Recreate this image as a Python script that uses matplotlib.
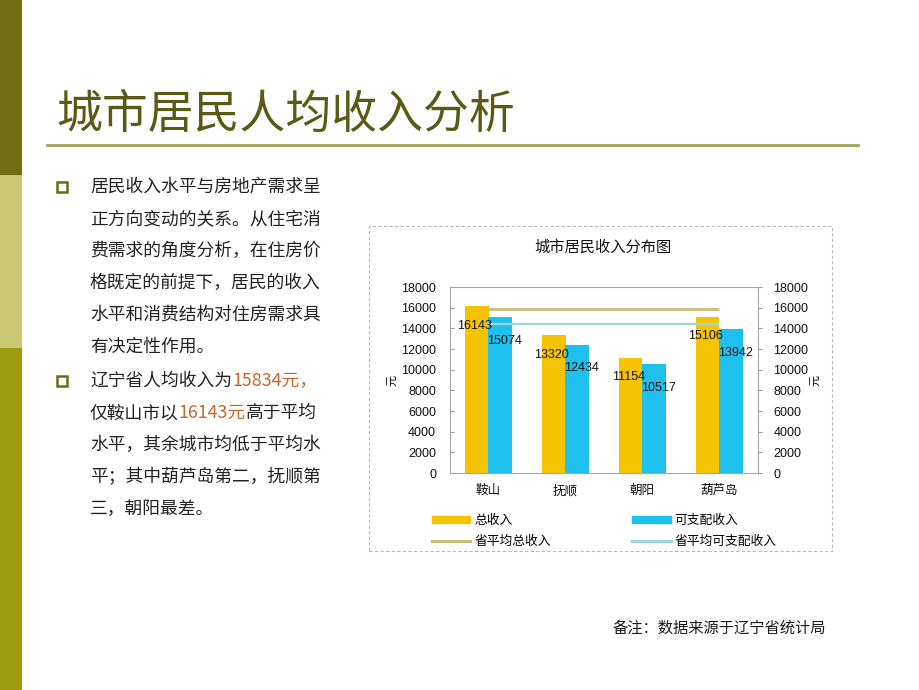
import matplotlib
matplotlib.use("Agg")
import matplotlib.pyplot as plt
from matplotlib.patches import Rectangle, Patch
from matplotlib.lines import Line2D

plt.rcParams['font.family'] = ['Noto Sans CJK SC', 'DejaVu Sans']

# data
cities = ['鞍山', '抚顺', '朝阳', '葫芦岛']
total_income = [16143, 13320, 11154, 15106]
disposable_income = [15074, 12434, 10517, 13942]
prov_avg_total = 15834
prov_avg_disposable = 14393
y_ticks = list(range(0, 18001, 2000))

slide_title = '城市居民人均收入分析'
chart_title = '城市居民收入分布图'
unit_label = '元'
legend_labels = ['总收入', '可支配收入', '省平均总收入', '省平均可支配收入']
footnote = '备注：数据来源于辽宁省统计局'

HL = '#c8642d'   # highlighted numbers
TXT = '#222222'
para1 = [
    [('居民收入水平与房地产需求呈', TXT)],
    [('正方向变动的关系。从住宅消', TXT)],
    [('费需求的角度分析，在住房价', TXT)],
    [('格既定的前提下，居民的收入', TXT)],
    [('水平和消费结构对住房需求具', TXT)],
    [('有决定性作用。', TXT)],
]
para2 = [
    [('辽宁省人均收入为', TXT), ('15834元，', HL)],
    [('仅鞍山市以', TXT), ('16143元', HL), ('高于平均', TXT)],
    [('水平，其余城市均低于平均水', TXT)],
    [('平；其中葫芦岛第二，抚顺第', TXT)],
    [('三，朝阳最差。', TXT)],
]

W, H = 920, 690
fig = plt.figure(figsize=(W / 100, H / 100), dpi=100)
fig.patch.set_facecolor('white')


def fx(px):
    return px / W


def fy(py):
    return 1 - py / H


# side bar
for y0, y1, col in [(0, 175, '#6e6e14'), (175, 348, '#c9c973'), (348, 690, '#9c9c0c')]:
    fig.add_artist(Rectangle((0, fy(y1)), fx(22), (y1 - y0) / H,
                             transform=fig.transFigure, facecolor=col, edgecolor='none'))

# title + rule
fig.text(fx(56), fy(115), slide_title, fontsize=33, color='#5a5a14', va='center', ha='left')
fig.add_artist(Line2D([fx(47), fx(858)], [fy(145), fy(145)], transform=fig.transFigure,
                      color='#a3a355', lw=2))

# bullet text
renderer = fig.canvas.get_renderer()


def put_line(x, y, segs, size=12.8):
    for s, c in segs:
        t = fig.text(fx(x), fy(y), s, color=c, fontsize=size, va='center', ha='left')
        bb = t.get_window_extent(renderer=renderer)
        x = bb.x1


def bullet(y):
    fig.add_artist(Line2D([fx(62)], [fy(y)], transform=fig.transFigure, marker='s',
                          ms=6.5, mfc='none', mec='#6b6b14', mew=1.8))


bullet(187)
for i, segs in enumerate(para1):
    put_line(90, 187 + 32 * i, segs)
bullet(381)
for i, segs in enumerate(para2):
    put_line(90, 381 + 32 * i, segs)

# chart frame
fig.add_artist(Rectangle((fx(369), fy(551)), fx(832 - 369), (551 - 226) / H,
                         transform=fig.transFigure, facecolor='none',
                         edgecolor='#b8b8b8', lw=0.8, ls=(0, (3, 2))))
fig.text(fx(603), fy(247), chart_title, fontsize=11, ha='center', va='center', color='#111111')

num_font = ['Liberation Sans', 'Noto Sans CJK SC']
ax = fig.add_axes([fx(450), fy(473), fx(758 - 450), (473 - 287) / H])
x = list(range(len(cities)))
bw = 0.3
yellow, blue = '#f5c300', '#1ec0ee'
ax.bar([i - bw / 2 for i in x], total_income, bw, color=yellow, zorder=2)
ax.bar([i + bw / 2 for i in x], disposable_income, bw, color=blue, zorder=2)
ax.hlines(prov_avg_total, 0, len(cities) - 1, color='#c8c07a', lw=2, zorder=3)
ax.hlines(prov_avg_disposable, 0, len(cities) - 1, color='#9fd4e2', lw=1.6, zorder=3)

for i, v in enumerate(total_income):
    ax.annotate(str(v), (i - bw / 2, v), xytext=(-2, -14), textcoords='offset points',
                ha='center', va='center', fontsize=9, family=num_font, color='#111111', zorder=4)
for i, v in enumerate(disposable_income):
    ax.annotate(str(v), (i + bw / 2, v), xytext=(3, -17), textcoords='offset points',
                ha='center', va='center', fontsize=9, family=num_font, color='#111111', zorder=4)

ax.set_xlim(-0.5, len(cities) - 0.5)
ax.set_ylim(0, 18000)
ax.set_yticks(y_ticks)
ax.set_yticklabels([str(t) for t in y_ticks], family=num_font, fontsize=9)
ax.set_xticks(x)
ax.set_xticklabels(cities, fontsize=9)
ax.tick_params(axis='y', direction='in', length=3, pad=10, colors='#a0a0a0', labelcolor='#111111')
ax.tick_params(axis='x', length=0, pad=8, labelcolor='#111111')
for s in ax.spines.values():
    s.set_color('#a6a6a6')
    s.set_linewidth(0.8)

ax2 = ax.twinx()
ax2.set_ylim(0, 18000)
ax2.set_yticks(y_ticks)
ax2.set_yticklabels([str(t) for t in y_ticks], family=num_font, fontsize=9)
ax2.tick_params(axis='y', direction='out', length=3, pad=8, colors='#a0a0a0', labelcolor='#111111')
for s in ax2.spines.values():
    s.set_visible(False)

fig.text(fx(392), fy(380), unit_label, rotation=90, fontsize=8, ha='center', va='center')
fig.text(fx(815), fy(380), unit_label, rotation=90, fontsize=8, ha='center', va='center')

handles = [Patch(color=yellow), Line2D([], [], color='#c8c07a', lw=2.2),
           Patch(color=blue), Line2D([], [], color='#9fd4e2', lw=2.2)]
labels = [legend_labels[0], legend_labels[2], legend_labels[1], legend_labels[3]]
fig.legend(handles, labels, loc='upper left', bbox_to_anchor=(fx(432), fy(514)), ncol=2,
           frameon=False, fontsize=9.2, borderpad=0, borderaxespad=0, handlelength=3.0,
           handleheight=0.5, handletextpad=0.3, labelspacing=0.6, columnspacing=6.4)

fig.text(fx(613), fy(628), footnote, fontsize=11, ha='left', va='center', color='#1a1a1a')

fig.savefig('out.png', dpi=100)
